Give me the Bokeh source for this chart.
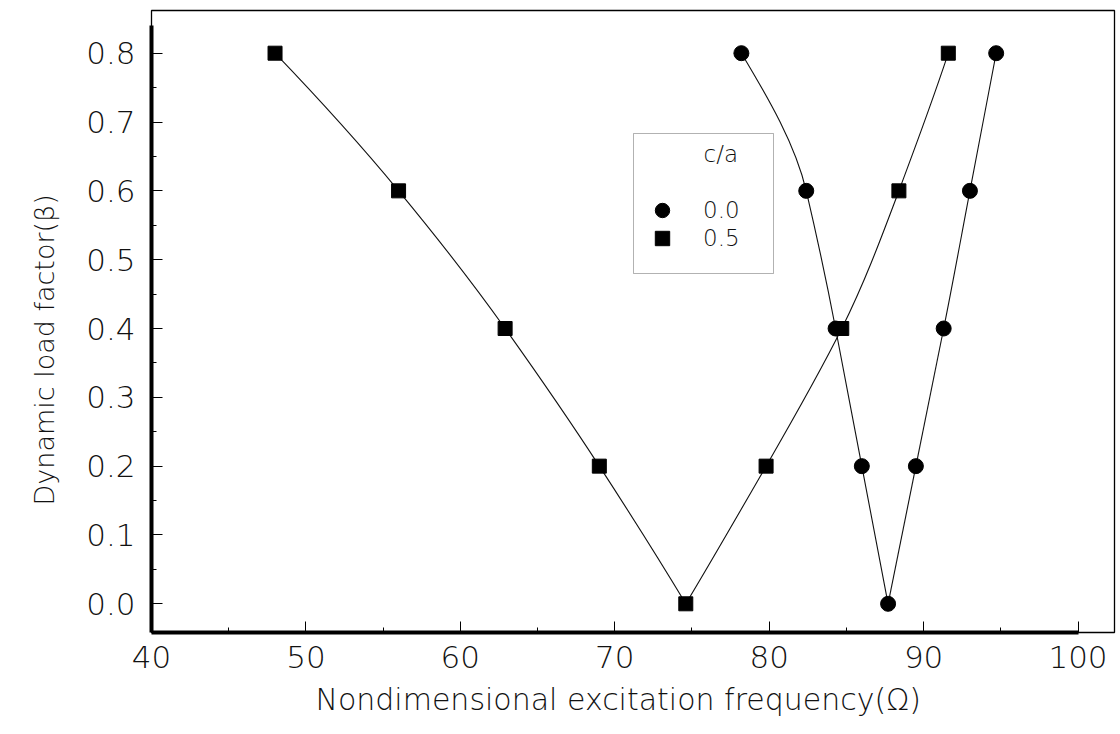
import numpy as np
from bokeh.plotting import figure
from bokeh.models import (FixedTicker, Label, Legend, LegendItem, BoxAnnotation,
                          ColumnDataSource, Range1d, Title)
from bokeh.embed import file_html
from bokeh.resources import INLINE

# ---------------- data ----------------
beta = [0.8, 0.6, 0.4, 0.2, 0.0, 0.2, 0.4, 0.6, 0.8]
omega_ca00 = [78.2, 82.4, 84.3, 86.0, 87.7, 89.5, 91.3, 93.0, 94.7]
omega_ca05 = [48.0, 56.0, 62.9, 69.0, 74.6, 79.8, 84.7, 88.4, 91.6]
series_labels = ["0.0", "0.5"]
legend_title = "c/a"
x_ticks = [40, 50, 60, 70, 80, 90, 100]
x_minor = [45, 55, 65, 75, 85, 95]
y_ticks = [0.0, 0.1, 0.2, 0.3, 0.4, 0.5, 0.6, 0.7, 0.8]
y_minor = [0.05, 0.15, 0.25, 0.35, 0.45, 0.55, 0.65, 0.75]
x_title = "Nondimensional excitation frequency(\u03a9)"
y_title = "Dynamic load factor(\u03b2)"

FONT = "DejaVu Sans Light, Lato Light, Lato"
TXT = "#111111"

# ---------------- layout helpers (pixel -> data) ----------------
X_PX0, X_SCALE = 151.0, 15.442      # x=40 at px 151
Y_PX0, Y_SCALE = 603.3, 688.25      # y=0 at px 603.3


def xd(px):
    return 40 + (px - X_PX0) / X_SCALE


def yd(py):
    return (Y_PX0 - py) / Y_SCALE


p = figure(width=1120, height=734, output_backend="svg", toolbar_location=None,
           x_range=Range1d(40, xd(1114)), y_range=Range1d(yd(632), yd(10)),
           min_border_left=151, min_border_right=6, min_border_top=10,
           min_border_bottom=102)
p.background_fill_color = "white"
p.border_fill_color = "white"
p.grid.visible = False
p.outline_line_color = "black"
p.outline_line_width = 1.3

# axes
for ax, tk, mn in ((p.xaxis[0], x_ticks, x_minor), (p.yaxis[0], y_ticks, y_minor)):
    ax.ticker = FixedTicker(ticks=tk, minor_ticks=mn)
    ax.major_tick_in = 11
    ax.major_tick_out = 0
    ax.minor_tick_in = 5
    ax.minor_tick_out = 0
    ax.major_tick_line_color = "black"
    ax.minor_tick_line_color = "black"
    ax.major_tick_line_width = 1
    ax.minor_tick_line_width = 1
    ax.axis_line_width = 4
    ax.axis_line_color = "black"
    ax.major_label_text_font = FONT
    ax.major_label_text_font_size = "31px"
    ax.major_label_text_color = TXT

p.xaxis[0].bounds = (40, 100)
p.yaxis[0].bounds = (yd(632), 0.84)
p.xaxis[0].major_label_standoff = 13
p.yaxis[0].major_label_standoff = 16
p.yaxis[0].major_label_overrides = {v: f"{v:.1f}" for v in y_ticks}


# ---------------- smooth curves (Akima tangents, x as a function of beta) ----------------
def akima_tangents(t, x):
    t = np.asarray(t, float)
    x = np.asarray(x, float)
    m = np.diff(x) / np.diff(t)
    mm = np.concatenate([[0, 0], m, [0, 0]])
    mm[1] = 2 * m[0] - m[1]
    mm[0] = 2 * mm[1] - m[0]
    mm[-2] = 2 * m[-1] - m[-2]
    mm[-1] = 2 * mm[-2] - m[-1]
    tg = []
    for i in range(len(x)):
        ml2, ml1, mr, mr1 = mm[i], mm[i + 1], mm[i + 2], mm[i + 3]
        w1, w2 = abs(mr1 - mr), abs(ml1 - ml2)
        if w1 + w2 == 0:
            tg.append((ml1 + mr) / 2)
        else:
            tg.append((w1 * ml1 + w2 * mr) / (w1 + w2))
    return np.array(tg)


def branch_beziers(bet, om):
    bet = list(bet)
    om = list(om)
    k = bet.index(min(bet))
    branches = [(bet[:k + 1][::-1], om[:k + 1][::-1]), (bet[k:], om[k:])]
    out = dict(x0=[], y0=[], x1=[], y1=[], cx0=[], cy0=[], cx1=[], cy1=[])
    for bb, oo in branches:
        tg = akima_tangents(bb, oo)
        for i in range(len(bb) - 1):
            h = bb[i + 1] - bb[i]
            out["x0"].append(oo[i]); out["y0"].append(bb[i])
            out["x1"].append(oo[i + 1]); out["y1"].append(bb[i + 1])
            out["cx0"].append(oo[i] + tg[i] * h / 3); out["cy0"].append(bb[i] + h / 3)
            out["cx1"].append(oo[i + 1] - tg[i + 1] * h / 3); out["cy1"].append(bb[i + 1] - h / 3)
    return ColumnDataSource(out)


for om in (omega_ca00, omega_ca05):
    p.bezier(x0="x0", y0="y0", x1="x1", y1="y1", cx0="cx0", cy0="cy0",
             cx1="cx1", cy1="cy1", source=branch_beziers(beta, om),
             line_color="#111111", line_width=1.1)

r_c = p.scatter(omega_ca00, beta, marker="circle", size=15,
                fill_color="black", line_color="black")
r_s = p.scatter(omega_ca05, beta, marker="square", size=14,
                fill_color="black", line_color="black")

# ---------------- legend ----------------
p.add_layout(BoxAnnotation(left=xd(633), right=xd(773), top=yd(133), bottom=yd(273),
                           fill_alpha=0, line_color="black", line_width=1))
p.add_layout(Label(x=xd(703), y=yd(153), text=legend_title, text_font=FONT,
                   text_font_size="23px", text_color=TXT, text_baseline="middle",
                   text_align="left"))
for lab, rend, loc_y in ((series_labels[0], r_c, 404), (series_labels[1], r_s, 376)):
    lg = Legend(items=[LegendItem(label=lab, renderers=[rend])],
                location=(493, loc_y), glyph_width=36, glyph_height=36,
                label_height=36, spacing=0, padding=0, margin=0,
                label_standoff=23, border_line_alpha=0,
                background_fill_alpha=0, label_text_font=FONT,
                label_text_font_size="23px", label_text_color=TXT)
    p.add_layout(lg)

# ---------------- axis titles ----------------
p.add_layout(Title(text=x_title, align="left", offset=164, standoff=19,
                   text_font=FONT, text_font_size="30px", text_font_style="normal",
                   text_color=TXT), "below")
p.add_layout(Title(text=y_title, align="left", offset=127, standoff=43,
                   vertical_align="top",
                   text_font=FONT, text_font_size="27px", text_font_style="normal",
                   text_color=TXT), "left")

open("out.html", "w").write(file_html(p, INLINE))
